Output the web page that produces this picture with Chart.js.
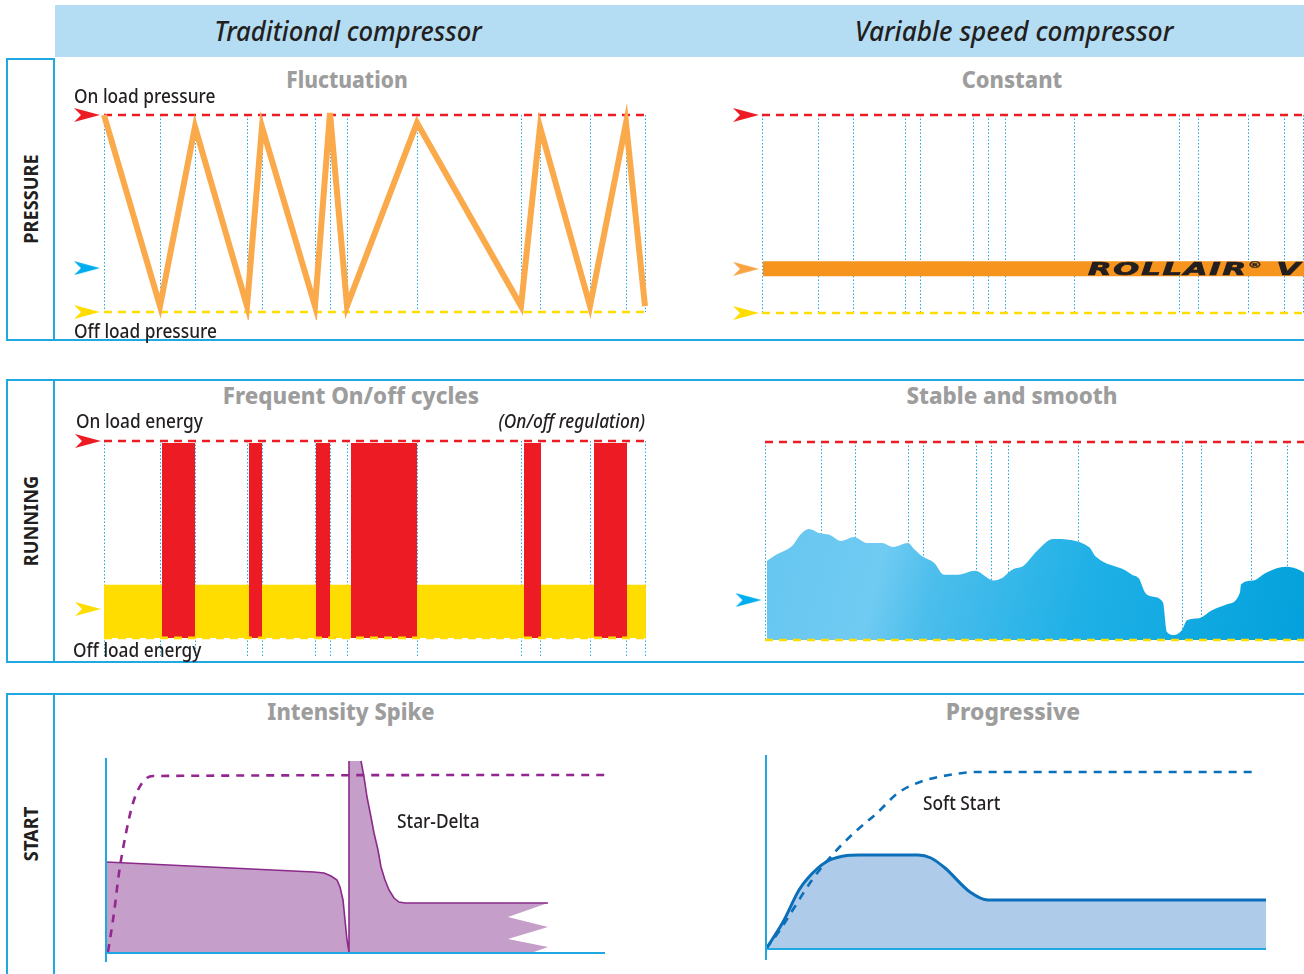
<!DOCTYPE html>
<html>
<head>
<meta charset="utf-8">
<script src="https://cdn.jsdelivr.net/npm/chart.js@4.4.1/dist/chart.umd.min.js"></script>
<style>
  body { margin: 0; width: 1304px; height: 974px; overflow: hidden; background: #fff; position: relative; font-family: "Noto Sans", sans-serif; }
  canvas, .t, .ln { position: absolute; }
  .ln { background: #22a8e0; }
  .band { position: absolute; left: 55px; top: 5px; width: 1249px; height: 52px; background: #b4dcf3; }
  .box { position: absolute; left: 6px; width: 49px; border: 2px solid #22a8e0; box-sizing: border-box; }
  .t { white-space: nowrap; line-height: 1; }
  .head { font-size: 27px; font-style: italic; font-weight: 500; color: #231f20; }
  .grey { font-size: 23px; font-weight: 800; color: #9d9d9d; }
  .lab { font-size: 19px; font-weight: 500; color: #231f20; transform: translateY(-50%) scaleX(.91); transform-origin: 0 50%; }
  .side { font-size: 20px; font-weight: 700; color: #231f20; transform: translate(-50%, -50%) rotate(-90deg) scaleX(.91); }
  .roll { font-family: "DejaVu Sans", sans-serif; font-size: 17px; font-weight: 900; font-style: italic; color: #231f20; letter-spacing: 1px; -webkit-text-stroke: 0.7px #231f20; transform: translateY(-50%) scaleX(1.8); transform-origin: 0 50%; }
</style>
</head>
<body>
<div class="band"></div>
<div class="t head" style="left:348px; top:30px; transform: translate(-50%, -50%) scaleX(.95);">Traditional compressor</div>
<div class="t head" style="left:1014px; top:30px; transform: translate(-50%, -50%) scaleX(.97);">Variable speed compressor</div>

<div class="box" style="top:58px; height:283px;"></div>
<div class="ln" style="left:6px; top:339px; width:1298px; height:2px;"></div>
<div class="box" style="top:379px; height:284px;"></div>
<div class="ln" style="left:6px; top:379px; width:1298px; height:2px;"></div>
<div class="ln" style="left:6px; top:661px; width:1298px; height:2px;"></div>
<div class="box" style="top:693px; height:300px;"></div>
<div class="ln" style="left:6px; top:693px; width:1298px; height:2px;"></div>

<div class="t side" style="left:31px; top:199px;">PRESSURE</div>
<div class="t side" style="left:31px; top:521px;">RUNNING</div>
<div class="t side" style="left:31px; top:834px;">START</div>

<canvas id="p1" width="582" height="219" style="left:70px; top:101px;"></canvas>
<canvas id="p2" width="574" height="220" style="left:730px; top:101px;"></canvas>
<canvas id="r1" width="582" height="231" style="left:70px; top:429px;"></canvas>
<canvas id="r2" width="572" height="218" style="left:732px; top:430px;"></canvas>
<canvas id="s1" width="511" height="212" style="left:102px; top:754px;"></canvas>
<canvas id="s2" width="508" height="213" style="left:762px; top:751px;"></canvas>

<div style="position:absolute; left:763px; top:258px; width:541px; height:22px; overflow:hidden;">
  <div class="t roll" style="left:325px; top:11px;">ROLLAIR<sup style="font-size:8px; -webkit-text-stroke:0.3px #231f20;">®</sup> V</div>
</div>

<div class="t grey" style="left:347px; top:79px; transform: translate(-50%, -50%) scaleX(.91);">Fluctuation</div>
<div class="t grey" style="left:1012px; top:79px; transform: translate(-50%, -50%) scaleX(.95);">Constant</div>
<div class="t grey" style="left:351px; top:395px; transform: translate(-50%, -50%) scaleX(.97);">Frequent On/off cycles</div>
<div class="t grey" style="left:1012px; top:395px; transform: translate(-50%, -50%) scaleX(.97);">Stable and smooth</div>
<div class="t grey" style="left:351px; top:711px; transform: translate(-50%, -50%) scaleX(.95);">Intensity Spike</div>
<div class="t grey" style="left:1013px; top:711px; transform: translate(-50%, -50%) scaleX(.99);">Progressive</div>

<div class="t lab" style="left:74px; top:96px;">On load pressure</div>
<div class="t lab" style="left:74px; top:331px;">Off load pressure</div>
<div class="t lab" style="left:76px; top:421px;">On load energy</div>
<div class="t lab" style="left:73px; top:650px;">Off load energy</div>
<div class="t lab" style="right:659px; top:421px; font-style:italic; transform-origin:100% 50%;">(On/off regulation)</div>
<div class="t lab" style="left:397px; top:821px;">Star-Delta</div>
<div class="t lab" style="left:923px; top:803px;">Soft Start</div>

<script>
// dotted time marks, px from the left edge of each plot
const timeMarks = [0, 56, 91, 143, 158, 211, 226, 243, 313, 417, 436, 486, 522, 541];

// traditional compressor: pressure zigzag (0 = off load, 100 = on load)
const fluctX = [0, 56, 91, 143, 158, 211, 226, 243, 313, 417, 436, 486, 522, 541];
const fluctY = [100, 3, 94, 3, 94, 3, 101, 3, 96, 3, 94, 3, 96, 3];
const pressureMid = 22.3;

// variable speed: constant pressure level
const constantLevel = 22.3;

// traditional: running on/off blocks [start, end]
const onBlocks = [[58, 91], [145, 158], [212, 226], [247, 313], [420, 437], [490, 523]];
const onTop = 99;
const offLevel = 27;
const offArrow = 14.7;

// variable speed: running energy profile
const smoothX = [2, 11, 28, 35, 44, 54, 65, 76, 89, 102, 117, 128, 143, 149, 158, 169, 179, 193, 210, 229, 236, 249, 257, 272, 288, 324, 331, 361, 367, 374, 380, 387, 398, 402, 409, 417, 422, 434, 447, 462, 475, 476, 488, 501, 521, 536, 539];
const smoothY = [40, 43, 48, 53, 56, 54, 53, 50, 52, 49, 49, 47, 49, 46, 42, 39, 33, 33, 35, 30, 31, 36, 37, 45, 51, 47, 42, 35, 33, 31, 24, 22, 19, 4, 2.5, 5, 10, 11, 15, 18, 24, 28, 30, 34, 37, 35, 34];
const smoothArrow = 20.2;

// star-delta start current (body, then the ragged tail) and speed
const spikeX = [0, 208, 218, 225, 231, 234, 237, 239, 241, 243, 243, 255, 258, 261, 265, 268, 272, 275, 279, 283, 288, 293, 299, 402, 402];
const spikeY = [91, 81, 80, 77, 73, 66, 53, 33, 13, 1, 192, 192, 176, 156, 136, 120, 103, 86, 73, 63, 55, 51, 50, 50, 0];
const tailX = [425, 442, 402, 442, 402, 442, 402];
const tailY = [0, 6, 14, 26, 36, 50, 50];
const starSpeedX = [2, 8, 13, 20, 27, 36, 47, 502];
const starSpeedY = [1, 40, 80, 120, 150, 170, 177, 178];

// soft start current and speed
const softX = [0, 17, 33, 42, 60, 78, 93, 152, 165, 179, 204, 222, 500];
const softY = [0, 27, 59, 71, 87, 93, 94, 94, 91, 81, 57, 49, 49];
const softSpeedX = [0, 14, 28, 46, 68, 89, 111, 132, 154, 183, 211, 492];
const softSpeedY = [0, 19, 41, 69, 96, 117, 136, 156, 167, 174, 177, 177];

const RED = "#ed1c24", YEL = "#ffdd00", CYAN = "#00aeef", ORANGE = "#f9a342", AXIS = "#22a8e0";
const NONE = "rgba(0,0,0,0)";

const pts = (xs, ys) => xs.map((x, i) => ({ x: x, y: ys[i] }));
const flat = (y, x0, x1) => [{ x: x0, y: y }, { x: x1, y: y }];

// arrow head used as a point style
function dart(color) {
  const c = document.createElement("canvas");
  c.width = 26; c.height = 14;
  const g = c.getContext("2d");
  g.fillStyle = color;
  g.beginPath();
  g.moveTo(0, 0); g.lineTo(26, 7); g.lineTo(0, 14); g.lineTo(7, 7);
  g.closePath(); g.fill();
  return c;
}

const dashed = (y, color, x1) => ({
  data: flat(y, 0, x1), borderColor: color, borderWidth: 2.6, borderDash: [8, 6], fill: false, clip: false
});

const arrows = (ys, colors, x) => ({
  type: "scatter", data: ys.map(y => ({ x: x, y: y })), pointStyle: colors.map(dart),
  pointRadius: 1, clip: false, showLine: false
});

function panel(id, o) {
  const gridX = o.gridX || [];
  const gridY = o.gridY || [];
  return new Chart(document.getElementById(id), {
    type: "line",
    data: { datasets: o.datasets },
    options: {
      responsive: false,
      animation: false,
      layout: { padding: o.pad, autoPadding: false },
      elements: { point: { radius: 0 }, line: { tension: 0 } },
      plugins: { legend: { display: false }, tooltip: { enabled: false } },
      scales: {
        x: {
          type: "linear", min: o.x[0], max: o.x[1], display: gridX.length > 0,
          afterBuildTicks: a => { a.ticks = gridX.map(v => ({ value: v })); },
          ticks: { display: false },
          border: { display: false, dash: o.dash || [] },
          grid: { color: AXIS, lineWidth: o.gridW || 1, drawTicks: false, z: o.gridZ || 0 }
        },
        y: {
          type: "linear", min: o.y[0], max: o.y[1], display: gridY.length > 0,
          afterBuildTicks: a => { a.ticks = gridY.map(v => ({ value: v })); },
          ticks: { display: false },
          border: { display: false },
          grid: { color: AXIS, lineWidth: o.gridW || 1, drawTicks: false, z: o.gridZ || 0 }
        }
      }
    }
  });
}

// pressure, traditional
panel("p1", {
  x: [-34, 542], y: [0, 100], pad: { left: 0, right: 6, top: 14, bottom: 8 },
  gridX: timeMarks, dash: [1.5, 2],
  datasets: [
    arrows([100, pressureMid, 0], [RED, CYAN, YEL], -17),
    { data: pts(fluctX, fluctY), borderColor: "#fbaa4b", borderWidth: 6, fill: false, clip: false },
    dashed(100, RED, 542),
    dashed(0, YEL, 542)
  ]
});

// pressure, variable speed
panel("p2", {
  x: [-32, 542], y: [0, 100], pad: { left: 0, right: 0, top: 14, bottom: 8 },
  gridX: timeMarks, dash: [1.5, 2],
  datasets: [
    arrows([100, constantLevel, 0], [RED, ORANGE, YEL], -16),
    dashed(100, RED, 542),
    dashed(0, YEL, 542),
    { data: flat(constantLevel, 1, 542), borderColor: "#f7941d", borderWidth: 15, borderCapStyle: "butt", fill: false, clip: false }
  ]
});

// running, traditional
const blockPts = [];
onBlocks.forEach(b => {
  blockPts.push({ x: b[0], y: 0 }, { x: b[0], y: onTop }, { x: b[1], y: onTop }, { x: b[1], y: 0 });
});
panel("r1", {
  x: [-34, 542], y: [-10.2, 100], pad: { left: 0, right: 6, top: 12, bottom: 2 },
  gridX: timeMarks, dash: [1.5, 2],
  datasets: [
    arrows([100, offArrow], [RED, YEL], -16),
    dashed(100, RED, 542),
    dashed(0, YEL, 542),
    { data: blockPts, borderWidth: 0, backgroundColor: RED, fill: "origin" },
    { data: [{ x: 0, y: 0 }, { x: 0, y: offLevel }, { x: 542, y: offLevel }, { x: 542, y: 0 }], borderWidth: 0, backgroundColor: YEL, fill: "origin" }
  ]
});

// running, variable speed
panel("r2", {
  x: [-33, 539], y: [0, 100], pad: { left: 0, right: 0, top: 12, bottom: 8 },
  gridX: timeMarks, dash: [1.5, 2],
  datasets: [
    arrows([smoothArrow], [CYAN], -16.5),
    dashed(100, RED, 539),
    dashed(0, YEL, 539),
    {
      data: pts(smoothX, smoothY), borderWidth: 0, fill: "origin", cubicInterpolationMode: "monotone",
      backgroundColor: ctx => {
        const a = ctx.chart.chartArea;
        if (!a) return "#2ab3e6";
        const g = ctx.chart.ctx.createLinearGradient(a.left + 40, a.top + 60, a.right, a.bottom);
        g.addColorStop(0, "#66c6f0");
        g.addColorStop(0.22, "#70cbf2");
        g.addColorStop(0.32, "#4cbeec");
        g.addColorStop(0.6, "#1eb0e6");
        g.addColorStop(1, "#03a1dc");
        return g;
      }
    }
  ]
});

// start, star-delta
panel("s1", {
  x: [0, 499], y: [-9, 195], pad: { left: 4, right: 8, top: 4, bottom: 4 },
  gridX: [0], gridY: [0], gridW: 2, gridZ: 1,
  datasets: [
    { data: pts(starSpeedX, starSpeedY), borderColor: "#93278f", borderWidth: 2.6, borderDash: [8, 7], fill: false, clip: false, cubicInterpolationMode: "monotone" },
    {
      data: pts(spikeX, spikeY), borderColor: "#8a2a8a", borderWidth: 1.6, backgroundColor: "#c59fc9", fill: "origin",
      segment: { borderColor: s => ((s.p0.parsed.y > 190 && s.p1.parsed.y > 190) || s.p0.parsed.x >= 401) ? NONE : undefined }
    },
    {
      indexAxis: "y", data: pts(tailX, tailY), borderColor: "#8a2a8a", borderWidth: 1.6, backgroundColor: "#c59fc9",
      fill: { target: { value: 402 } },
      segment: { borderColor: s => (s.p0.parsed.y >= 49 && s.p1.parsed.y >= 49) ? undefined : NONE }
    }
  ]
});

// start, soft start
panel("s2", {
  x: [0, 500], y: [-11, 194], pad: { left: 4, right: 4, top: 4, bottom: 4 },
  gridX: [0], gridY: [0], gridW: 2, gridZ: 1,
  datasets: [
    { data: pts(softSpeedX, softSpeedY), borderColor: "#0b6fba", borderWidth: 2.6, borderDash: [8, 7], fill: false, clip: false, cubicInterpolationMode: "monotone" },
    { data: pts(softX, softY), borderColor: "#0b6fba", borderWidth: 3, backgroundColor: "#aecbe9", fill: "origin", cubicInterpolationMode: "monotone" }
  ]
});
</script>
</body>
</html>
